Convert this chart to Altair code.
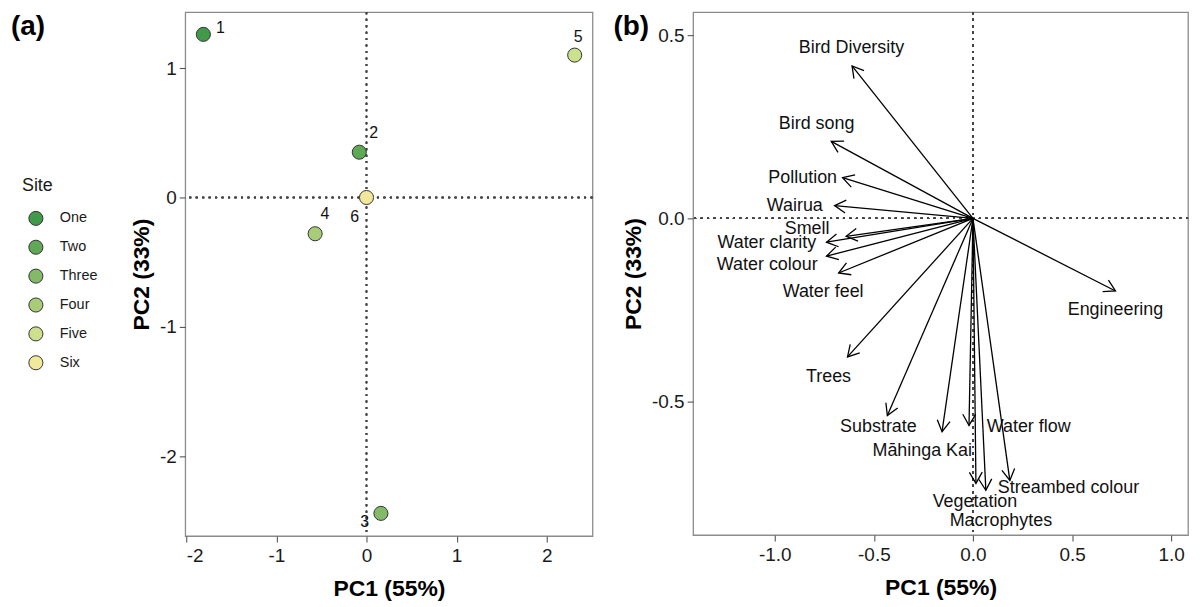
import math
import altair as alt
import pandas as pd

# ---------------- data: panel (a) site scores ----------------
sites = ["One", "Two", "Three", "Four", "Five", "Six"]
site_ids = ["1", "2", "3", "4", "5", "6"]
site_pc1 = [-1.81, -0.08, 0.16, -0.57, 2.31, 0.0]
site_pc2 = [1.26, 0.35, -2.44, -0.28, 1.10, 0.0]
id_pc1 = [-1.62, 0.08, -0.02, -0.46, 2.35, -0.13]
id_pc2 = [1.31, 0.50, -2.51, -0.13, 1.24, -0.15]
site_colors = ["#41994a", "#5fa956", "#82ba68", "#a7cd79", "#cde08e", "#f1e89a"]

# ---------------- data: panel (b) variable loadings ----------------
variables = ["Bird Diversity", "Bird song", "Pollution", "Wairua", "Smell",
             "Water clarity", "Water colour", "Water feel", "Engineering",
             "Trees", "Substrate", "Māhinga Kai", "Water flow", "Vegetation",
             "Macrophytes", "Streambed colour"]
load_pc1 = [-0.610, -0.715, -0.658, -0.698, -0.640, -0.739, -0.739, -0.678,
            0.719, -0.633, -0.432, -0.156, -0.020, 0.015, 0.065, 0.186]
load_pc2 = [0.416, 0.210, 0.111, 0.035, -0.049, -0.065, -0.103, -0.149,
            -0.198, -0.378, -0.538, -0.582, -0.565, -0.723, -0.742, -0.715]
name_pc1 = [-0.613, -0.789, -0.859, -0.899, -0.837, -1.040, -1.038, -0.756,
            0.719, -0.729, -0.477, -0.256, 0.281, 0.010, 0.141, 0.482]
name_pc2 = [0.465, 0.258, 0.111, 0.035, -0.030, -0.068, -0.128, -0.201,
            -0.250, -0.432, -0.568, -0.636, -0.568, -0.774, -0.826, -0.736]

panel_tags = ["(a)", "(b)"]

x_title = "PC1 (55%)"
y_title = "PC2 (33%)"

# ---------------- layout / scales ----------------
WL, HL = 409, 526
WR, HR = 497, 525
xdom_l = [-2.011, 2.508]
ydom_l = [-2.615, 1.431]
xdom_r = [-1.412, 1.085]
ydom_r = [-0.864, 0.5625]

FONT = "Liberation Sans"
minus_fix = "replace(datum.label, '\u2212', '-')"

# ---------------- panel (a) ----------------
df_sites = pd.DataFrame({"Site": sites, "pc1": site_pc1, "pc2": site_pc2,
                         "id": site_ids, "lx": id_pc1, "ly": id_pc2})

xs_l = alt.Scale(domain=xdom_l, nice=False, zero=False)
ys_l = alt.Scale(domain=ydom_l, nice=False, zero=False)

ref_style = dict(color="#444444", strokeDash=[2, 4.5], strokeWidth=1.4)

vline_l = alt.Chart(df_sites).mark_rule(**ref_style).encode(x=alt.datum(0))
hline_l = alt.Chart(df_sites).mark_rule(**ref_style).encode(y=alt.datum(0))

pts = alt.Chart(df_sites).mark_point(
    filled=True, size=200, stroke="#333333", strokeWidth=1, opacity=1
).encode(
    x=alt.X("pc1:Q", scale=xs_l, title=x_title,
            axis=alt.Axis(values=[-2, -1, 0, 1, 2], format="d", labelExpr=minus_fix)),
    y=alt.Y("pc2:Q", scale=ys_l, title=y_title,
            axis=alt.Axis(values=[-2, -1, 0, 1], format="d", labelExpr=minus_fix)),
    fill=alt.Fill("Site:N", scale=alt.Scale(domain=sites, range=site_colors),
                  sort=sites,
                  legend=alt.Legend(orient="none", legendX=-164, legendY=166,
                                    title="Site", titleFont=FONT, titleFontSize=18,
                                    titleFontWeight="normal", titleColor="#1a1a1a",
                                    titlePadding=15, labelFont=FONT, labelFontSize=14.5,
                                    labelColor="#1a1a1a", symbolSize=200,
                                    symbolStrokeColor="#333333", symbolStrokeWidth=1,
                                    symbolType="circle", symbolOffset=6,
                                    labelOffset=16, rowPadding=9, padding=0)),
)

ids = alt.Chart(df_sites).mark_text(
    font=FONT, fontSize=16, color="#111111", align="center", baseline="middle"
).encode(x="lx:Q", y="ly:Q", text="id:N")

df_tag_a = pd.DataFrame({"t": [panel_tags[0]]})
tag_a = alt.Chart(df_tag_a).mark_text(
    font=FONT, fontSize=28, fontWeight="bold", align="left", baseline="middle",
    color="#000000"
).encode(x=alt.value(-175), y=alt.value(15), text="t:N")

left = alt.layer(vline_l, hline_l, pts, ids, tag_a).properties(width=WL, height=HL)

# ---------------- panel (b) ----------------
kx = WR / (xdom_r[1] - xdom_r[0])
ky = HR / (ydom_r[1] - ydom_r[0])
angles = [math.degrees(math.atan2(a * kx, b * ky)) % 360 for a, b in zip(load_pc1, load_pc2)]

df_load = pd.DataFrame({"var": variables, "pc1": load_pc1, "pc2": load_pc2,
                        "nx": name_pc1, "ny": name_pc2, "ang": angles})
df_load["ox"] = 0.0
df_load["oy"] = 0.0

xs_r = alt.Scale(domain=xdom_r, nice=False, zero=False)
ys_r = alt.Scale(domain=ydom_r, nice=False, zero=False)

vline_r = alt.Chart(df_load).mark_rule(**ref_style).encode(x=alt.datum(0))
hline_r = alt.Chart(df_load).mark_rule(**ref_style).encode(y=alt.datum(0))

shafts = alt.Chart(df_load).mark_rule(color="#000000", strokeWidth=1.3).encode(
    x=alt.X("ox:Q", scale=xs_r, title=x_title,
            axis=alt.Axis(values=[-1, -0.5, 0, 0.5, 1], format=".1f", labelExpr=minus_fix)),
    y=alt.Y("oy:Q", scale=ys_r, title=y_title,
            axis=alt.Axis(values=[-0.5, 0, 0.5], format=".1f", labelExpr=minus_fix)),
    x2="pc1:Q",
    y2="pc2:Q",
)

heads = alt.Chart(df_load).mark_point(
    shape="M -0.577 1 L 0 0 L 0.577 1", filled=False, size=500,
    color="#000000", strokeWidth=1.3, opacity=1
).encode(
    x="pc1:Q", y="pc2:Q", angle=alt.Angle("ang:Q", scale=None)
)

names = alt.Chart(df_load).mark_text(
    font=FONT, fontSize=18, color="#111111", align="center", baseline="middle"
).encode(x="nx:Q", y="ny:Q", text="var:N")

df_tag_b = pd.DataFrame({"t": [panel_tags[1]]})
tag_b = alt.Chart(df_tag_b).mark_text(
    font=FONT, fontSize=28, fontWeight="bold", align="left", baseline="middle",
    color="#000000"
).encode(x=alt.value(-80), y=alt.value(15), text="t:N")

right = alt.layer(vline_r, hline_r, shafts, heads, names, tag_b).properties(width=WR, height=HR)

chart = alt.hconcat(left, right, spacing=18).resolve_scale(
    x="independent", y="independent"
).properties(
    padding={"left": 2, "top": 1, "right": 2, "bottom": 2}
).configure_axis(
    grid=False, domain=False, tickColor="#555555", tickSize=6, tickWidth=1.1,
    labelFont=FONT, labelFontSize=19, labelColor="#1a1a1a", labelPadding=3,
    titleFont=FONT, titleFontSize=23, titleFontWeight="bold", titleColor="#000000",
    titlePadding=6,
).configure_axisX(
    labelPadding=5, titlePadding=12
).configure_view(
    stroke="#8c8c8c", strokeWidth=1.3
)

chart.save("out.html", embed_options={"renderer": "svg", "actions": False})
